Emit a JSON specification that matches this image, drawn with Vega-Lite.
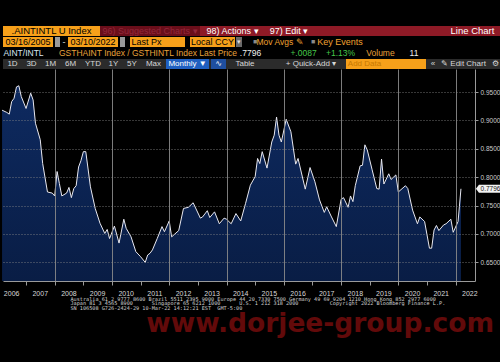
{
"$schema": "https://vega.github.io/schema/vega-lite/v6.json",
"background": "#000000",
"padding": {"top": 25, "left": 0, "right": 0, "bottom": 30},
"config": {"view": {"stroke": null}, "concat": {"spacing": 0}, "text": {"font": "Liberation Sans"}},
"spacing": 0,
"vconcat": [
{"bounds": "flush", "spacing": 0, "hconcat": [
 {"width": 97, "height": 10, "view": {"fill": "#f6a01a", "stroke": null}, "data": {"values": [{"t": ".AINTINTL U Index"}]}, "mark": {"type": "text", "color": "#000000", "fontSize": 9.5}, "encoding": {"text": {"field": "t"}}},
 {"width": 100, "height": 10, "view": {"fill": "#6a0e1a", "stroke": null}, "data": {"values": [{"t": "96) Suggested Charts ▾"}]}, "mark": {"type": "text", "color": "#92283a", "fontSize": 9}, "encoding": {"text": {"field": "t"}}},
 {"width": 65, "height": 10, "view": {"fill": "#8e1a26", "stroke": null}, "data": {"values": [{"t": "98) Actions ▾"}]}, "mark": {"type": "text", "color": "#ffffff", "fontSize": 9}, "encoding": {"text": {"field": "t"}}},
 {"width": 48, "height": 10, "view": {"fill": "#8e1a26", "stroke": null}, "data": {"values": [{"t": "97) Edit ▾"}]}, "mark": {"type": "text", "color": "#ffffff", "fontSize": 9}, "encoding": {"text": {"field": "t"}}},
 {"width": 134, "height": 10, "view": {"fill": "#8e1a26", "stroke": null}, "data": {"values": [{"t": ""}]}, "mark": {"type": "text"}, "encoding": {"text": {"field": "t"}}},
 {"width": 51, "height": 10, "view": {"fill": "#8e1a26", "stroke": null}, "data": {"values": [{"t": "Line Chart"}]}, "mark": {"type": "text", "color": "#ffffff", "fontSize": 9.5}, "encoding": {"text": {"field": "t"}}},
 {"width": 5, "height": 10, "view": {"fill": "#8e1a26", "stroke": null}, "data": {"values": [{"t": ""}]}, "mark": {"type": "text"}, "encoding": {"text": {"field": "t"}}}
]},
{"bounds": "flush", "spacing": 0, "hconcat": [
 {"width": 50, "height": 10, "view": {"fill": "#f6a01a", "stroke": null}, "data": {"values": [{"t": "03/16/2005"}]}, "mark": {"type": "text", "color": "#000000", "fontSize": 9}, "encoding": {"text": {"field": "t"}}},
 {"width": 2, "height": 10, "data": {"values": [{"t": ""}]}, "mark": {"type": "text"}, "encoding": {"text": {"field": "t"}}},
 {"width": 5, "height": 10, "view": {"fill": "#9a9a9a", "stroke": null}, "data": {"values": [{"t": ""}]}, "mark": {"type": "text"}, "encoding": {"text": {"field": "t"}}},
 {"width": 8, "height": 10, "data": {"values": [{"t": "-"}]}, "mark": {"type": "text", "color": "#dddddd", "fontSize": 9}, "encoding": {"text": {"field": "t"}}},
 {"width": 50, "height": 10, "view": {"fill": "#f6a01a", "stroke": null}, "data": {"values": [{"t": "03/10/2022"}]}, "mark": {"type": "text", "color": "#000000", "fontSize": 9}, "encoding": {"text": {"field": "t"}}},
 {"width": 2, "height": 10, "data": {"values": [{"t": ""}]}, "mark": {"type": "text"}, "encoding": {"text": {"field": "t"}}},
 {"width": 5, "height": 10, "view": {"fill": "#9a9a9a", "stroke": null}, "data": {"values": [{"t": ""}]}, "mark": {"type": "text"}, "encoding": {"text": {"field": "t"}}},
 {"width": 5, "height": 10, "data": {"values": [{"t": ""}]}, "mark": {"type": "text"}, "encoding": {"text": {"field": "t"}}},
 {"width": 33, "height": 10, "view": {"fill": "#f6a01a", "stroke": null}, "data": {"values": [{"t": "Last Px"}]}, "mark": {"type": "text", "color": "#000000", "fontSize": 9}, "encoding": {"text": {"field": "t"}}},
 {"width": 22, "height": 10, "view": {"fill": "#f6a01a", "stroke": null}, "data": {"values": [{"t": ""}]}, "mark": {"type": "text"}, "encoding": {"text": {"field": "t"}}},
 {"width": 5, "height": 10, "data": {"values": [{"t": ""}]}, "mark": {"type": "text"}, "encoding": {"text": {"field": "t"}}},
 {"width": 45, "height": 10, "view": {"fill": "#f6a01a", "stroke": null}, "data": {"values": [{"t": "Local CCY"}]}, "mark": {"type": "text", "color": "#000000", "fontSize": 9}, "encoding": {"text": {"field": "t"}}},
 {"width": 1, "height": 10, "data": {"values": [{"t": ""}]}, "mark": {"type": "text"}, "encoding": {"text": {"field": "t"}}},
 {"width": 6, "height": 10, "view": {"fill": "#6a6a6a", "stroke": null}, "data": {"values": [{"t": "▾"}]}, "mark": {"type": "text", "color": "#dddddd", "fontSize": 7}, "encoding": {"text": {"field": "t"}}},
 {"width": 10, "height": 10, "data": {"values": [{"t": ""}]}, "mark": {"type": "text"}, "encoding": {"text": {"field": "t"}}},
 {"width": 6, "height": 10, "data": {"values": [{"t": "■"}]}, "mark": {"type": "text", "color": "#8a8a8a", "fontSize": 7}, "encoding": {"text": {"field": "t"}}},
 {"width": 44, "height": 10, "data": {"values": [{"t": "Mov Avgs ✎"}]}, "mark": {"type": "text", "color": "#f0a030", "fontSize": 8.5}, "encoding": {"text": {"field": "t"}}},
 {"width": 8, "height": 10, "data": {"values": [{"t": ""}]}, "mark": {"type": "text"}, "encoding": {"text": {"field": "t"}}},
 {"width": 6, "height": 10, "data": {"values": [{"t": "■"}]}, "mark": {"type": "text", "color": "#8a8a8a", "fontSize": 7}, "encoding": {"text": {"field": "t"}}},
 {"width": 48, "height": 10, "data": {"values": [{"t": "Key Events"}]}, "mark": {"type": "text", "color": "#f0a030", "fontSize": 9}, "encoding": {"text": {"field": "t"}}},
 {"width": 139, "height": 10, "data": {"values": [{"t": ""}]}, "mark": {"type": "text"}, "encoding": {"text": {"field": "t"}}}
]},
{"bounds": "flush", "spacing": 0, "hconcat": [
 {"width": 41, "height": 10, "data": {"values": [{"t": "AINT/INTL"}]}, "mark": {"type": "text", "color": "#d6e6f2", "fontSize": 8.5}, "encoding": {"text": {"field": "t"}}},
 {"width": 14, "height": 10, "data": {"values": [{"t": ""}]}, "mark": {"type": "text"}, "encoding": {"text": {"field": "t"}}},
 {"width": 180, "height": 10, "data": {"values": [{"t": "GSTHAINT Index / GSTHINTL Index Last Price"}]}, "mark": {"type": "text", "color": "#e9a23b", "fontSize": 8.5}, "encoding": {"text": {"field": "t"}}},
 {"width": 25, "height": 10, "data": {"values": [{"t": ".7796"}]}, "mark": {"type": "text", "color": "#f0f0f0", "fontSize": 8.5}, "encoding": {"text": {"field": "t"}}},
 {"width": 26, "height": 10, "data": {"values": [{"t": ""}]}, "mark": {"type": "text"}, "encoding": {"text": {"field": "t"}}},
 {"width": 29, "height": 10, "data": {"values": [{"t": "+.0087"}]}, "mark": {"type": "text", "color": "#45c84a", "fontSize": 8.5}, "encoding": {"text": {"field": "t"}}},
 {"width": 10, "height": 10, "data": {"values": [{"t": ""}]}, "mark": {"type": "text"}, "encoding": {"text": {"field": "t"}}},
 {"width": 25, "height": 10, "data": {"values": [{"t": "+1.13%"}]}, "mark": {"type": "text", "color": "#45c84a", "fontSize": 8.5}, "encoding": {"text": {"field": "t"}}},
 {"width": 13, "height": 10, "data": {"values": [{"t": ""}]}, "mark": {"type": "text"}, "encoding": {"text": {"field": "t"}}},
 {"width": 29, "height": 10, "data": {"values": [{"t": "Volume"}]}, "mark": {"type": "text", "color": "#e9a23b", "fontSize": 8.5}, "encoding": {"text": {"field": "t"}}},
 {"width": 14, "height": 10, "data": {"values": [{"t": ""}]}, "mark": {"type": "text"}, "encoding": {"text": {"field": "t"}}},
 {"width": 10, "height": 10, "data": {"values": [{"t": "11"}]}, "mark": {"type": "text", "color": "#f0f0f0", "fontSize": 8.5}, "encoding": {"text": {"field": "t"}}},
 {"width": 84, "height": 10, "data": {"values": [{"t": ""}]}, "mark": {"type": "text"}, "encoding": {"text": {"field": "t"}}}
]},
{"bounds": "flush", "spacing": 0, "hconcat": [
 {"width": 19, "height": 10, "view": {"fill": "#2b2b2b", "stroke": null}, "data": {"values": [{"t": "1D"}]}, "mark": {"type": "text", "color": "#d8d8d8", "fontSize": 8}, "encoding": {"text": {"field": "t"}}},
 {"width": 19, "height": 10, "view": {"fill": "#2b2b2b", "stroke": null}, "data": {"values": [{"t": "3D"}]}, "mark": {"type": "text", "color": "#d8d8d8", "fontSize": 8}, "encoding": {"text": {"field": "t"}}},
 {"width": 19, "height": 10, "view": {"fill": "#2b2b2b", "stroke": null}, "data": {"values": [{"t": "1M"}]}, "mark": {"type": "text", "color": "#d8d8d8", "fontSize": 8}, "encoding": {"text": {"field": "t"}}},
 {"width": 21, "height": 10, "view": {"fill": "#2b2b2b", "stroke": null}, "data": {"values": [{"t": "6M"}]}, "mark": {"type": "text", "color": "#d8d8d8", "fontSize": 8}, "encoding": {"text": {"field": "t"}}},
 {"width": 24, "height": 10, "view": {"fill": "#2b2b2b", "stroke": null}, "data": {"values": [{"t": "YTD"}]}, "mark": {"type": "text", "color": "#d8d8d8", "fontSize": 8}, "encoding": {"text": {"field": "t"}}},
 {"width": 17, "height": 10, "view": {"fill": "#2b2b2b", "stroke": null}, "data": {"values": [{"t": "1Y"}]}, "mark": {"type": "text", "color": "#d8d8d8", "fontSize": 8}, "encoding": {"text": {"field": "t"}}},
 {"width": 20, "height": 10, "view": {"fill": "#2b2b2b", "stroke": null}, "data": {"values": [{"t": "5Y"}]}, "mark": {"type": "text", "color": "#d8d8d8", "fontSize": 8}, "encoding": {"text": {"field": "t"}}},
 {"width": 23, "height": 10, "view": {"fill": "#2b2b2b", "stroke": null}, "data": {"values": [{"t": "Max"}]}, "mark": {"type": "text", "color": "#d8d8d8", "fontSize": 8}, "encoding": {"text": {"field": "t"}}},
 {"width": 1, "height": 10, "view": {"fill": "#2b2b2b", "stroke": null}, "data": {"values": [{"t": ""}]}, "mark": {"type": "text"}, "encoding": {"text": {"field": "t"}}},
 {"width": 43, "height": 10, "view": {"fill": "#1f5fc0", "stroke": null}, "data": {"values": [{"t": "Monthly ▼"}]}, "mark": {"type": "text", "color": "#ffffff", "fontSize": 8}, "encoding": {"text": {"field": "t"}}},
 {"width": 2, "height": 10, "view": {"fill": "#2b2b2b", "stroke": null}, "data": {"values": [{"t": ""}]}, "mark": {"type": "text"}, "encoding": {"text": {"field": "t"}}},
 {"width": 15, "height": 10, "view": {"fill": "#1f4fa0", "stroke": null}, "data": {"values": [{"t": "∿"}]}, "mark": {"type": "text", "color": "#ffffff", "fontSize": 8, "font": "DejaVu Sans"}, "encoding": {"text": {"field": "t"}}},
 {"width": 5, "height": 10, "view": {"fill": "#2b2b2b", "stroke": null}, "data": {"values": [{"t": ""}]}, "mark": {"type": "text"}, "encoding": {"text": {"field": "t"}}},
 {"width": 28, "height": 10, "view": {"fill": "#2b2b2b", "stroke": null}, "data": {"values": [{"t": "Table"}]}, "mark": {"type": "text", "color": "#d8d8d8", "fontSize": 8}, "encoding": {"text": {"field": "t"}}},
 {"width": 24, "height": 10, "view": {"fill": "#2b2b2b", "stroke": null}, "data": {"values": [{"t": ""}]}, "mark": {"type": "text"}, "encoding": {"text": {"field": "t"}}},
 {"width": 56, "height": 10, "view": {"fill": "#2b2b2b", "stroke": null}, "data": {"values": [{"t": "+ Quick-Add ▾"}]}, "mark": {"type": "text", "color": "#d8d8d8", "fontSize": 8}, "encoding": {"text": {"field": "t"}}},
 {"width": 7, "height": 10, "view": {"fill": "#2b2b2b", "stroke": null}, "data": {"values": [{"t": ""}]}, "mark": {"type": "text"}, "encoding": {"text": {"field": "t"}}},
 {"width": 37, "height": 10, "view": {"fill": "#f6a01a", "stroke": null}, "data": {"values": [{"t": "Add Data"}]}, "mark": {"type": "text", "color": "#c77800", "fontSize": 8}, "encoding": {"text": {"field": "t"}}},
 {"width": 43, "height": 10, "view": {"fill": "#f6a01a", "stroke": null}, "data": {"values": [{"t": ""}]}, "mark": {"type": "text"}, "encoding": {"text": {"field": "t"}}},
 {"width": 3, "height": 10, "view": {"fill": "#2b2b2b", "stroke": null}, "data": {"values": [{"t": ""}]}, "mark": {"type": "text"}, "encoding": {"text": {"field": "t"}}},
 {"width": 8, "height": 10, "view": {"fill": "#2b2b2b", "stroke": null}, "data": {"values": [{"t": "«"}]}, "mark": {"type": "text", "color": "#d8d8d8", "fontSize": 8}, "encoding": {"text": {"field": "t"}}},
 {"width": 53, "height": 10, "view": {"fill": "#2b2b2b", "stroke": null}, "data": {"values": [{"t": "✎ Edit Chart"}]}, "mark": {"type": "text", "color": "#d8d8d8", "fontSize": 8}, "encoding": {"text": {"field": "t"}}},
 {"width": 11, "height": 10, "view": {"fill": "#2b2b2b", "stroke": null}, "data": {"values": [{"t": "⚙"}]}, "mark": {"type": "text", "color": "#d8d8d8", "fontSize": 8, "font": "DejaVu Sans"}, "encoding": {"text": {"field": "t"}}},
 {"width": 2, "height": 10, "view": {"fill": "#2b2b2b", "stroke": null}, "data": {"values": [{"t": ""}]}, "mark": {"type": "text"}, "encoding": {"text": {"field": "t"}}}
]},
{
 "width": 472, "height": 212,
 "title": {"text": "www.dorjee-group.com", "orient": "bottom", "anchor": "end", "frame": "group", "font": "DejaVu Sans", "fontSize": 26.5, "fontWeight": "bold", "color": "#620a0a", "offset": 0, "dx": 19},
 "data": {"values": [
  {"d": "2006-03-01", "v": 0.918}, {"d": "2006-05-01", "v": 0.914}, {"d": "2006-06-01", "v": 0.911}, {"d": "2006-07-01", "v": 0.933},
  {"d": "2006-08-01", "v": 0.939}, {"d": "2006-09-01", "v": 0.959}, {"d": "2006-10-01", "v": 0.961}, {"d": "2006-11-01", "v": 0.942},
  {"d": "2007-01-01", "v": 0.921}, {"d": "2007-03-01", "v": 0.948}, {"d": "2007-04-01", "v": 0.936}, {"d": "2007-05-01", "v": 0.895},
  {"d": "2007-07-01", "v": 0.866}, {"d": "2007-08-01", "v": 0.824}, {"d": "2007-10-01", "v": 0.774}, {"d": "2007-12-01", "v": 0.772},
  {"d": "2008-01-01", "v": 0.767}, {"d": "2008-02-01", "v": 0.810}, {"d": "2008-03-01", "v": 0.789}, {"d": "2008-04-01", "v": 0.767},
  {"d": "2008-06-01", "v": 0.772}, {"d": "2008-07-01", "v": 0.782}, {"d": "2008-08-01", "v": 0.764}, {"d": "2008-09-01", "v": 0.780},
  {"d": "2008-10-01", "v": 0.785}, {"d": "2008-11-01", "v": 0.818}, {"d": "2008-12-01", "v": 0.829}, {"d": "2009-01-01", "v": 0.845},
  {"d": "2009-02-01", "v": 0.845}, {"d": "2009-04-01", "v": 0.783}, {"d": "2009-06-01", "v": 0.745}, {"d": "2009-08-01", "v": 0.719},
  {"d": "2009-10-01", "v": 0.701}, {"d": "2009-11-01", "v": 0.708}, {"d": "2009-12-01", "v": 0.692}, {"d": "2010-02-01", "v": 0.714},
  {"d": "2010-04-01", "v": 0.684}, {"d": "2010-06-01", "v": 0.726}, {"d": "2010-07-01", "v": 0.710}, {"d": "2010-09-01", "v": 0.695},
  {"d": "2010-11-01", "v": 0.669}, {"d": "2011-01-01", "v": 0.660}, {"d": "2011-03-01", "v": 0.650}, {"d": "2011-04-01", "v": 0.663},
  {"d": "2011-05-01", "v": 0.666}, {"d": "2011-06-01", "v": 0.672}, {"d": "2011-08-01", "v": 0.692}, {"d": "2011-10-01", "v": 0.713},
  {"d": "2011-11-01", "v": 0.704}, {"d": "2012-01-01", "v": 0.723}, {"d": "2012-02-01", "v": 0.695}, {"d": "2012-05-01", "v": 0.706},
  {"d": "2012-07-01", "v": 0.745}, {"d": "2012-09-01", "v": 0.747}, {"d": "2012-11-01", "v": 0.755}, {"d": "2013-02-01", "v": 0.728},
  {"d": "2013-03-01", "v": 0.730}, {"d": "2013-05-01", "v": 0.741}, {"d": "2013-06-01", "v": 0.729}, {"d": "2013-08-01", "v": 0.739},
  {"d": "2013-10-01", "v": 0.718}, {"d": "2013-12-01", "v": 0.728}, {"d": "2014-01-01", "v": 0.726}, {"d": "2014-03-01", "v": 0.718},
  {"d": "2014-05-01", "v": 0.736}, {"d": "2014-07-01", "v": 0.723}, {"d": "2014-09-01", "v": 0.754}, {"d": "2014-11-01", "v": 0.786},
  {"d": "2015-01-01", "v": 0.801}, {"d": "2015-02-01", "v": 0.833}, {"d": "2015-03-01", "v": 0.824}, {"d": "2015-04-01", "v": 0.845},
  {"d": "2015-06-01", "v": 0.816}, {"d": "2015-08-01", "v": 0.862}, {"d": "2015-09-01", "v": 0.874}, {"d": "2015-10-01", "v": 0.906},
  {"d": "2015-11-01", "v": 0.874}, {"d": "2015-12-01", "v": 0.862}, {"d": "2016-02-01", "v": 0.902}, {"d": "2016-04-01", "v": 0.880},
  {"d": "2016-06-01", "v": 0.823}, {"d": "2016-07-01", "v": 0.833}, {"d": "2016-10-01", "v": 0.779}, {"d": "2016-12-01", "v": 0.817},
  {"d": "2017-02-01", "v": 0.792}, {"d": "2017-04-01", "v": 0.760}, {"d": "2017-06-01", "v": 0.738}, {"d": "2017-07-01", "v": 0.748},
  {"d": "2017-09-01", "v": 0.730}, {"d": "2017-11-01", "v": 0.713}, {"d": "2018-01-01", "v": 0.761}, {"d": "2018-02-01", "v": 0.764},
  {"d": "2018-04-01", "v": 0.747}, {"d": "2018-05-01", "v": 0.767}, {"d": "2018-06-01", "v": 0.757}, {"d": "2018-07-01", "v": 0.785},
  {"d": "2018-09-01", "v": 0.820}, {"d": "2018-10-01", "v": 0.821}, {"d": "2018-11-01", "v": 0.857}, {"d": "2018-12-01", "v": 0.848},
  {"d": "2019-02-01", "v": 0.813}, {"d": "2019-04-01", "v": 0.780}, {"d": "2019-05-01", "v": 0.779}, {"d": "2019-06-01", "v": 0.832},
  {"d": "2019-07-01", "v": 0.788}, {"d": "2019-09-01", "v": 0.806}, {"d": "2019-10-01", "v": 0.796}, {"d": "2019-12-01", "v": 0.804},
  {"d": "2020-01-01", "v": 0.774}, {"d": "2020-04-01", "v": 0.785}, {"d": "2020-05-01", "v": 0.780}, {"d": "2020-07-01", "v": 0.742},
  {"d": "2020-09-01", "v": 0.718}, {"d": "2020-10-01", "v": 0.730}, {"d": "2020-12-01", "v": 0.722}, {"d": "2021-02-01", "v": 0.675},
  {"d": "2021-03-01", "v": 0.675}, {"d": "2021-04-01", "v": 0.707}, {"d": "2021-05-01", "v": 0.715}, {"d": "2021-06-01", "v": 0.706},
  {"d": "2021-08-01", "v": 0.716}, {"d": "2021-09-01", "v": 0.718}, {"d": "2021-11-01", "v": 0.726}, {"d": "2021-12-01", "v": 0.703},
  {"d": "2022-02-01", "v": 0.722}, {"d": "2022-03-10", "v": 0.7796}
 ]},
 "layer": [
  {"mark": {"type": "area", "line": false, "fill": {"gradient": "linear", "x1": 0, "y1": 0, "x2": 0, "y2": 1, "stops": [{"offset": 0, "color": "#0e2a60"}, {"offset": 1, "color": "#091d45"}]}, "opacity": 1},
   "encoding": {
    "x": {"field": "d", "type": "temporal",
      "scale": {"domain": [{"year": 2006, "month": 3, "date": 13, "utc": true}, {"year": 2022, "month": 9, "date": 5, "utc": true}]},
      "axis": {"values": [{"year": 2007, "utc": true}, {"year": 2008, "utc": true}, {"year": 2009, "utc": true}, {"year": 2010, "utc": true}, {"year": 2011, "utc": true}, {"year": 2012, "utc": true}, {"year": 2013, "utc": true}, {"year": 2014, "utc": true}, {"year": 2015, "utc": true}, {"year": 2016, "utc": true}, {"year": 2017, "utc": true}, {"year": 2018, "utc": true}, {"year": 2019, "utc": true}, {"year": 2020, "utc": true}, {"year": 2021, "utc": true}, {"year": 2022, "utc": true}],
        "tickCount": 40,
        "labels": false, "ticks": true, "tickSize": 4, "tickColor": "#9a9a9a", "domain": true, "domainColor": "#9a9a9a",
        "grid": true, "gridColor": "#8a8a8a", "gridWidth": 1,
        "gridOpacity": {"condition": {"test": "utcyear(datum.value) % 2 === 0", "value": 0.9}, "value": 0},
        "zindex": 1,
        "title": [
          "Australia 61 2 9777 8600 Brazil 5511 2395 9000 Europe 44 20 7330 7500 Germany 49 69 9204 1210 Hong Kong 852 2977 6000",
          "Japan 81 3 4565 8900\u00a0\u00a0\u00a0\u00a0\u00a0\u00a0Singapore 65 6212 1000\u00a0\u00a0\u00a0\u00a0\u00a0\u00a0U.S. 1 212 318 2000\u00a0\u00a0\u00a0\u00a0\u00a0\u00a0\u00a0\u00a0\u00a0\u00a0Copyright 2022 Bloomberg Finance L.P.",
          "\u00a0\u00a0\u00a0\u00a0\u00a0\u00a0\u00a0\u00a0\u00a0\u00a0\u00a0\u00a0\u00a0\u00a0\u00a0\u00a0\u00a0\u00a0\u00a0\u00a0\u00a0\u00a0\u00a0\u00a0\u00a0\u00a0\u00a0\u00a0\u00a0\u00a0\u00a0\u00a0\u00a0\u00a0\u00a0\u00a0\u00a0\u00a0\u00a0\u00a0\u00a0\u00a0\u00a0\u00a0\u00a0\u00a0\u00a0\u00a0\u00a0\u00a0\u00a0\u00a0\u00a0\u00a0\u00a0\u00a0\u00a0\u00a0\u00a0\u00a0\u00a0\u00a0\u00a0\u00a0\u00a0\u00a0\u00a0\u00a0\u00a0\u00a0\u00a0\u00a0\u00a0\u00a0\u00a0\u00a0\u00a0\u00a0\u00a0SN 106508 G726-2424-29 10-Mar-22 14:12:21 EST\u00a0\u00a0GMT-5:00"
        ],
        "titleFont": "DejaVu Sans Mono", "titleFontSize": 5.2, "titleFontWeight": "normal", "titleColor": "#d0d0d0",
        "titleAlign": "left", "titleBaseline": "top", "titleX": 67, "titleY": 15, "titleLineHeight": 4.7}},
    "y": {"field": "v", "type": "quantitative",
      "scale": {"domain": [0.61725, 0.9905], "zero": false, "nice": false},
      "axis": {"orient": "right", "values": [0.65, 0.7, 0.75, 0.8, 0.85, 0.9, 0.95], "tickCount": 20, "format": ".4f",
        "labelFont": "Liberation Sans", "labelFontSize": 6.5, "labelColor": "#cccccc", "labelPadding": 2, "labelOverlap": false,
        "tickSize": 3, "tickColor": "#9a9a9a", "domainColor": "#9a9a9a", "zindex": 1,
        "grid": true, "gridDash": [1, 2], "gridColor": "#8a8a8a", "gridOpacity": 0.8, "title": null}},
    "y2": {"datum": 0.61725}
   }},
  {"mark": {"type": "line", "color": "#e8e8f0", "strokeWidth": 1},
   "encoding": {
    "x": {"field": "d", "type": "temporal"},
    "y": {"field": "v", "type": "quantitative"}}},
  {"transform": [{"filter": "datum.v === 0.7796"}],
   "mark": {"type": "point", "shape": "M15,0L18,-4H41V4H18Z", "size": 4, "filled": true, "color": "#f2f2f2", "opacity": 1, "strokeWidth": 0},
   "encoding": {
    "x": {"field": "d", "type": "temporal"},
    "y": {"field": "v", "type": "quantitative"}}},
  {"transform": [{"filter": "datum.v === 0.7796"}],
   "mark": {"type": "text", "dx": 29.5, "fontSize": 6.5, "color": "#111111", "align": "center", "baseline": "middle", "font": "Liberation Sans"},
   "encoding": {
    "x": {"field": "d", "type": "temporal"},
    "y": {"field": "v", "type": "quantitative"},
    "text": {"field": "v", "type": "quantitative", "format": ".4f"}}},
  {"data": {"values": [
    {"yr": "2006", "mid": "2006-07-01"}, {"yr": "2007", "mid": "2007-07-01"}, {"yr": "2008", "mid": "2008-07-01"}, {"yr": "2009", "mid": "2009-07-01"},
    {"yr": "2010", "mid": "2010-07-01"}, {"yr": "2011", "mid": "2011-07-01"}, {"yr": "2012", "mid": "2012-07-01"}, {"yr": "2013", "mid": "2013-07-01"},
    {"yr": "2014", "mid": "2014-07-01"}, {"yr": "2015", "mid": "2015-07-01"}, {"yr": "2016", "mid": "2016-07-01"}, {"yr": "2017", "mid": "2017-07-01"},
    {"yr": "2018", "mid": "2018-07-01"}, {"yr": "2019", "mid": "2019-07-01"}, {"yr": "2020", "mid": "2020-07-01"}, {"yr": "2021", "mid": "2021-07-01"},
    {"yr": "2022", "mid": "2022-07-01"}]},
   "mark": {"type": "text", "dy": 13, "fontSize": 7, "color": "#d8d8d8", "baseline": "middle", "align": "center", "font": "Liberation Sans"},
   "encoding": {
    "x": {"field": "mid", "type": "temporal"},
    "y": {"value": "height"},
    "text": {"field": "yr"}}}
 ]
}
]
}
